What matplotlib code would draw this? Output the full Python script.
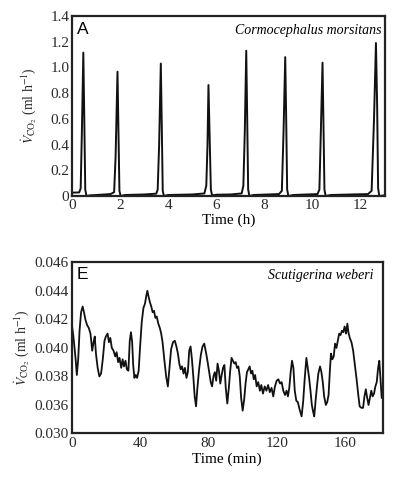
import matplotlib
matplotlib.use("Agg")
import matplotlib.pyplot as plt

plt.rcParams['font.family'] = ['Liberation Serif', 'DejaVu Serif']
plt.rcParams['mathtext.fontset'] = 'stix'

# === PANEL A: Cormocephalus morsitans (time in h) ===
time_h = [
    0.00, 0.30, 0.36, 0.41, 0.47, 0.51, 0.55, 0.60, 0.75, 1.20, 1.60,
    1.75, 1.81, 1.89, 1.93, 1.97, 2.02, 2.20, 3.00, 3.50,
    3.56, 3.62, 3.69, 3.73, 3.77, 3.82, 4.00, 5.00, 5.50,
    5.58, 5.63, 5.67, 5.72, 5.77, 5.82, 6.00, 6.60, 7.05,
    7.12, 7.18, 7.24, 7.28, 7.32, 7.37, 7.55, 8.60,
    8.72, 8.79, 8.86, 8.90, 8.94, 8.99, 9.20, 10.20,
    10.28, 10.34, 10.41, 10.45, 10.49, 10.54, 10.75, 12.30,
    12.45, 12.55, 12.63, 12.68, 12.72, 12.77, 13.00,
]
vco2_a = [
    0.026, 0.028, 0.06, 0.50, 1.115, 0.60, 0.05, 0.0, 0.005, 0.010, 0.015,
    0.03, 0.30, 0.967, 0.50, 0.04, 0.0, 0.008, 0.012, 0.018,
    0.05, 0.40, 1.03, 0.55, 0.04, 0.0, 0.008, 0.012, 0.020,
    0.08, 0.40, 0.863, 0.45, 0.05, 0.005, 0.010, 0.012, 0.020,
    0.08, 0.50, 1.13, 0.60, 0.05, 0.0, 0.008, 0.015,
    0.04, 0.50, 1.08, 0.60, 0.05, 0.0, 0.008, 0.015,
    0.05, 0.50, 1.037, 0.55, 0.05, 0.0, 0.008, 0.015,
    0.04, 0.60, 1.19, 0.70, 0.06, 0.0, 0.005,
]
yticks_a = [0, 0.2, 0.4, 0.6, 0.8, 1.0, 1.2, 1.4]
ylabels_a = ["0", "0.2", "0.4", "0.6", "0.8", "1.0", "1.2", "1.4"]
xticks_a = [0, 2, 4, 6, 8, 10, 12]

# === PANEL E: Scutigerina weberi (time in min) ===
time_min = [
    0.0, 0.8, 1.5, 2.3, 3.0, 3.8, 4.6, 5.5, 6.4, 7.2, 8.0, 9.0, 10.0, 11.0,
    12.0, 12.8, 13.5, 14.2, 15.2, 16.2, 17.2, 18.2, 19.2, 20.0, 21.0, 21.8,
    22.6, 23.5, 24.5, 25.5, 26.3, 27.2, 28.0, 29.0, 29.8, 30.6, 31.5, 32.3,
    33.2, 34.0, 34.7, 35.4, 36.0, 36.7, 37.5, 38.3, 39.2, 40.0, 41.0, 42.0,
    42.9, 43.6, 44.3, 45.0, 45.8, 46.6, 47.4, 48.2, 49.0, 49.8, 50.7, 51.6,
    52.4, 53.2, 54.2, 55.3, 56.3, 57.2, 58.2, 59.3, 60.4, 61.3, 62.2, 63.0,
    63.8, 64.6, 65.5, 66.3, 67.2, 68.0, 68.8, 69.6, 70.4, 71.2, 72.0, 72.8,
    73.6, 74.6, 75.6, 76.6, 77.6, 78.6, 79.6, 80.6, 81.4, 82.2, 83.0, 83.8,
    84.6, 85.4, 86.2, 87.0, 87.8, 88.6, 89.4, 90.2, 91.1, 92.0, 92.8, 93.6,
    94.4, 95.2, 96.0, 96.8, 97.6, 98.4, 99.2, 100.1, 101.0, 101.8, 102.6,
    103.4, 104.2, 105.0, 105.8, 106.6, 107.4, 108.3, 109.2, 110.2, 111.0,
    112.0, 113.0, 114.0, 115.0, 116.0, 117.0, 118.0, 119.0, 120.0, 121.0,
    122.0, 122.9, 123.9, 124.9, 125.8, 126.6, 127.4, 128.2, 129.0, 129.8,
    130.6, 131.5, 132.4, 133.4, 134.6, 135.5, 136.4, 137.4, 138.2, 139.0,
    139.8, 140.6, 141.4, 142.0, 142.8, 143.6, 144.4, 145.4, 146.2, 147.0,
    147.8, 148.8, 149.6, 150.4, 151.2, 151.8, 152.6, 153.4, 154.2, 155.0,
    155.8, 156.6, 157.4, 158.2, 159.0, 159.8, 160.6, 161.4, 162.0, 162.8,
    163.8, 164.8, 165.8, 166.8, 167.8, 168.6, 169.6, 170.6, 171.4, 172.2,
    173.0, 173.8, 174.6, 175.4, 176.2, 177.0, 177.8, 178.6, 179.4, 180.1,
    180.8, 181.5,
]
vco2_e = [
    0.0417, 0.0410, 0.0402, 0.0392, 0.0381, 0.0392, 0.0412, 0.0425, 0.0429,
    0.0425, 0.0420, 0.0416, 0.0414, 0.0410, 0.0398, 0.0404, 0.0408, 0.0396,
    0.0386, 0.0380, 0.0382, 0.0392, 0.0405, 0.0408, 0.0410, 0.0404, 0.0407,
    0.0400, 0.0398, 0.0394, 0.0397, 0.0390, 0.0393, 0.0386, 0.0392, 0.0387,
    0.0391, 0.0385, 0.0384, 0.0405, 0.0411, 0.0404, 0.0388, 0.0379, 0.0381,
    0.0379, 0.0384, 0.0400, 0.0418, 0.0428, 0.0431, 0.0436, 0.0440, 0.0436,
    0.0432, 0.0429, 0.0425, 0.0426, 0.0421, 0.0422, 0.0417, 0.0414, 0.0410,
    0.0404, 0.0392, 0.0380, 0.0373, 0.0385, 0.0399, 0.0404, 0.0405, 0.0401,
    0.0396, 0.0389, 0.0385, 0.0387, 0.0382, 0.0386, 0.0379, 0.0383, 0.0398,
    0.0401, 0.0392, 0.0380, 0.0366, 0.0359, 0.0372, 0.0385, 0.0395, 0.0401,
    0.0403, 0.0397, 0.0390, 0.0382, 0.0376, 0.0373, 0.0380, 0.0383, 0.0377,
    0.0389, 0.0384, 0.0375, 0.0381, 0.0386, 0.0388, 0.0372, 0.0361, 0.0372,
    0.0384, 0.0393, 0.0391, 0.0389, 0.0390, 0.0386, 0.0387, 0.0380, 0.0365,
    0.0356, 0.0364, 0.0375, 0.0383, 0.0385, 0.0387, 0.0382, 0.0384, 0.0378,
    0.0381, 0.0373, 0.0376, 0.0370, 0.0374, 0.0368, 0.0373, 0.0370, 0.0374,
    0.0369, 0.0372, 0.0366, 0.0373, 0.0377, 0.0378, 0.0375, 0.0376, 0.0370,
    0.0367, 0.0370, 0.0366, 0.0372, 0.0383, 0.0391, 0.0386, 0.0370, 0.0363,
    0.0362, 0.0357, 0.0352, 0.0362, 0.0378, 0.0393, 0.0386, 0.0379, 0.0370,
    0.0360, 0.0355, 0.0352, 0.0363, 0.0373, 0.0382, 0.0387, 0.0383, 0.0376,
    0.0366, 0.0360, 0.0362, 0.0367, 0.0385, 0.0396, 0.0392, 0.0394, 0.0403,
    0.0400, 0.0405, 0.0410, 0.0409, 0.0412, 0.0411, 0.0415, 0.0410, 0.0417,
    0.0411, 0.0407, 0.0404, 0.0398, 0.0388, 0.0378, 0.0367, 0.0359, 0.0358,
    0.0358, 0.0366, 0.0371, 0.0365, 0.0360, 0.0365, 0.0370, 0.0366, 0.0368,
    0.0373, 0.0376, 0.0386, 0.0391, 0.0378, 0.0365,
]
# bottom tick is labelled 0.030 in the original (broken axis)
yticks_e = [0.034, 0.036, 0.038, 0.040, 0.042, 0.044, 0.046]
ylabels_e = ["0.030", "0.036", "0.038", "0.040", "0.042", "0.044", "0.046"]
xticks_e = [0, 40, 80, 120, 160]

ylabel = r'$\dot{V}_{\mathrm{CO}_2}$ (ml h$^{-1}$)'

fig = plt.figure(figsize=(3.97, 4.79), dpi=100)
ax1 = fig.add_axes([0.1814, 0.5908, 0.788, 0.3758])
ax2 = fig.add_axes([0.1806, 0.0950, 0.783, 0.3574])


def style(ax):
    for s in ax.spines.values():
        s.set_linewidth(1.6)
        s.set_color('#222222')
    ax.tick_params(length=0, labelsize=11, colors='#2a2a2a')
    ax.tick_params(axis='y', pad=2)
    ax.tick_params(axis='x', pad=2.5)


# --- Panel A ---
ax1.plot(time_h, vco2_a, color='#111111', lw=1.4)
ax1.set_xlim(0, 13)
ax1.set_ylim(0, 1.4)
ax1.set_xticks(xticks_a)
ax1.set_yticks(yticks_a)
ax1.set_yticklabels(ylabels_a)
style(ax1)
ax1.set_xlabel('Time (h)', fontsize=11, labelpad=0.5)
ax1.set_ylabel(ylabel, fontsize=9.8, color='#2a2a2a')
ax1.yaxis.set_label_coords(-0.11, 0.5)
ax1.text(0.015, 0.965, 'A', transform=ax1.transAxes, va='top', ha='left',
         fontsize=12.5, family='Liberation Sans')
ax1.text(0.99, 0.92, 'Cormocephalus morsitans', transform=ax1.transAxes,
         va='center', ha='right', fontsize=10, style='italic')

# --- Panel E ---
ax2.plot(time_min, vco2_e, color='#111111', lw=1.3)
ax2.set_xlim(0, 182)
ax2.set_ylim(0.034, 0.046)
ax2.set_xticks(xticks_e)
ax2.set_yticks(yticks_e)
ax2.set_yticklabels(ylabels_e)
style(ax2)
ax2.set_xlabel('Time (min)', fontsize=11, labelpad=1.5)
ax2.set_ylabel(ylabel, fontsize=9.8, color='#2a2a2a')
ax2.yaxis.set_label_coords(-0.13, 0.5)
ax2.text(0.015, 0.97, 'E', transform=ax2.transAxes, va='top', ha='left',
         fontsize=12.5, family='Liberation Sans')
ax2.text(0.97, 0.925, 'Scutigerina weberi', transform=ax2.transAxes,
         va='center', ha='right', fontsize=10, style='italic')

fig.savefig('out.png', dpi=100, facecolor='white')
